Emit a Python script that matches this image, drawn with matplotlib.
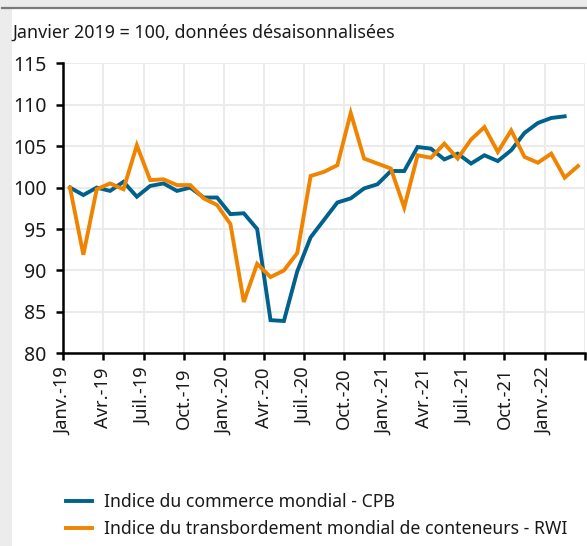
import matplotlib
matplotlib.use("Agg")
import matplotlib.pyplot as plt
from matplotlib.patches import Rectangle
from matplotlib.lines import Line2D

# data, monthly, Jan-19 onwards
cpb = [100.0, 99.1, 100.0, 99.6, 100.7, 98.9, 100.2, 100.5, 99.6, 100.0,
       98.8, 98.8, 96.8, 96.9, 95.0, 84.0, 83.9, 89.9, 94.0, 96.1,
       98.2, 98.7, 99.9, 100.4, 102.0, 102.0, 104.9, 104.7, 103.4, 104.1,
       102.9, 103.9, 103.2, 104.5, 106.6, 107.8, 108.4, 108.6]
rwi = [100.0, 91.9, 99.8, 100.5, 99.8, 105.1, 100.9, 101.0, 100.3, 100.3,
       98.7, 97.9, 95.6, 86.2, 90.8, 89.2, 90.0, 92.1, 101.4, 101.9,
       102.7, 109.0, 103.5, 102.9, 102.3, 97.6, 103.9, 103.6, 105.3, 103.5,
       105.8, 107.3, 104.3, 106.9, 103.7, 103.0, 104.1, 101.2, 102.6]
tick_labels = ["Janv.-19", "Avr.-19", "Juil.-19", "Oct.-19",
               "Janv.-20", "Avr.-20", "Juil.-20", "Oct.-20",
               "Janv.-21", "Avr.-21", "Juil.-21", "Oct.-21", "Janv.-22"]
y_ticks = [80, 85, 90, 95, 100, 105, 110, 115]
names = ["Indice du commerce mondial - CPB",
         "Indice du transbordement mondial de conteneurs - RWI"]

BLUE = "#00628c"
ORANGE = "#f08400"
GRID = "#ebebeb"

plt.rcParams["font.family"] = ["Noto Sans", "DejaVu Sans"]

W, H = 587, 546
fig = plt.figure(figsize=(W / 100, H / 100), dpi=100)
fig.patch.set_facecolor("#ececec")

# white panel with dark top rule (kept behind the axes)
fig.patches.append(Rectangle((12 / W, 0), 1, 1 - 9 / H, transform=fig.transFigure,
                             facecolor="white", edgecolor="none", zorder=-10))
fig.lines.append(Line2D([2 / W, 1], [1 - 8 / H, 1 - 8 / H], transform=fig.transFigure,
                        color="#7a7a7a", lw=1.6, zorder=-9))

ax = fig.add_axes([63.3 / W, 1 - 353.3 / H, (584.7 - 63.3) / W, (353.3 - 63.3) / H])
ax.set_facecolor("white")

ax.plot([i + 0.5 for i in range(len(cpb))], cpb, color=BLUE, lw=2.8,
        solid_joinstyle="miter", label=names[0], zorder=3)
ax.plot([i + 0.5 for i in range(len(rwi))], rwi, color=ORANGE, lw=2.8,
        solid_joinstyle="miter", label=names[1], zorder=3)

ax.set_xlim(0, 39)
ax.set_ylim(80, 115)
ax.set_yticks(y_ticks)
ax.set_xticks(range(0, 40, 3))
ax.set_xticklabels(tick_labels + [""], rotation=90, ha="center", va="top",
                   fontsize=13.2)

ax.grid(True, color=GRID, lw=1.5, zorder=0)
ax.set_axisbelow(True)
for s in ["top", "right"]:
    ax.spines[s].set_visible(False)
for s in ["left", "bottom"]:
    ax.spines[s].set_linewidth(1.8)
    ax.spines[s].set_color("black")
    ax.spines[s].set_zorder(4)
ax.tick_params(axis="both", length=5, width=1.8, colors="black",
               labelcolor="#1a1a1a")
ax.tick_params(axis="y", labelsize=14, pad=7)
ax.tick_params(axis="x", pad=5)

fig.text(12 / W, 1 - 33 / H, "Janvier 2019 = 100, données désaisonnalisées",
         fontsize=12.9, color="#1a1a1a", va="center", ha="left")

ax.legend(loc="upper left", bbox_to_anchor=(59 / W, 1 - 486 / H),
          bbox_transform=fig.transFigure, frameon=False, fontsize=12.7,
          handlelength=1.45, handletextpad=0.72, labelspacing=0.5,
          borderaxespad=0)
for t in ax.get_legend().get_texts():
    t.set_color("#1a1a1a")

fig.savefig("out.png", dpi=100, facecolor=fig.get_facecolor())
